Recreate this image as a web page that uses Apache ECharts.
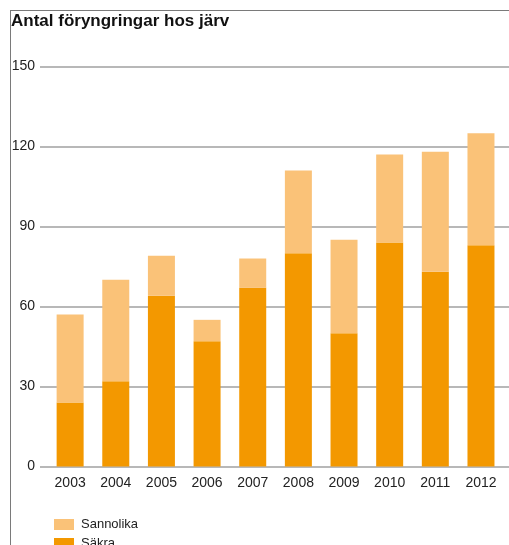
<!DOCTYPE html>
<html>
<head>
<meta charset="utf-8">
<script src="https://cdn.jsdelivr.net/npm/echarts@6/dist/echarts.min.js"></script>
<style>
  html, body { margin: 0; padding: 0; background: #fff; }
  #chart { position: absolute; left: 0; top: 0; width: 509px; height: 545px; }
  #frame { position: absolute; left: 10px; top: 10px; width: 499px; height: 535px;
           border-top: 1px solid #7a7a7a; border-left: 1px solid #7a7a7a; pointer-events: none; }
</style>
</head>
<body>
<div id="chart"></div>
<div id="frame"></div>
<script>
// Wolverine reproductions per year: confirmed (Säkra) and probable (Sannolika)
const years = ['2003', '2004', '2005', '2006', '2007', '2008', '2009', '2010', '2011', '2012'];
const sakra = [24, 32, 64, 47, 67, 80, 50, 84, 73, 83];
const sannolika = [33, 38, 15, 8, 11, 31, 35, 33, 45, 42];
const yTicks = [0, 30, 60, 90, 120, 150];

const colSakra = '#F39800';
const colSannolika = '#FAC278';
const gridGrey = '#a0a0a0';
const labelFont = 'Liberation Sans, Arial, sans-serif';

const chart = echarts.init(document.getElementById('chart'), null, { renderer: 'canvas' });

const yMin = yTicks[0];
const yMax = yTicks[yTicks.length - 1];
const yStep = yTicks[1] - yTicks[0];

chart.setOption({
  animation: false,
  title: {
    text: 'Antal föryngringar hos järv',
    left: 11,
    top: 13,
    padding: 0,
    textStyle: {
      fontFamily: labelFont,
      fontWeight: 'bold',
      fontSize: 17,
      color: '#111'
    }
  },
  legend: {
    orient: 'vertical',
    left: 54,
    top: 518,
    height: 60,
    padding: 0,
    itemWidth: 20,
    itemHeight: 11,
    itemGap: 6,
    icon: 'rect',
    data: ['Sannolika', 'Säkra'],
    textStyle: { fontFamily: labelFont, fontSize: 13, color: '#222', padding: [0, 0, 0, 2] }
  },
  grid: [
    // full-width grid carrying the horizontal value lines
    { left: 40, right: 0, top: 66.5, bottom: 78.5 },
    // inner grid holding the bars
    { left: 47.3, right: 5.2, top: 66.5, bottom: 78.5 }
  ],
  xAxis: [
    { gridIndex: 0, type: 'value', show: false, min: 0, max: 1 },
    {
      gridIndex: 1,
      type: 'category',
      data: years,
      axisLine: { show: false },
      axisTick: { show: false },
      axisLabel: { margin: 10, fontFamily: labelFont, fontSize: 14, color: '#222' }
    }
  ],
  yAxis: [
    {
      gridIndex: 0,
      type: 'value',
      min: yMin,
      max: yMax,
      interval: yStep,
      axisLine: { show: false },
      axisTick: { show: false },
      axisLabel: { margin: 5, fontFamily: labelFont, fontSize: 14, color: '#222' },
      splitLine: { show: true, lineStyle: { color: gridGrey, width: 1.5 } }
    },
    {
      gridIndex: 1,
      type: 'value',
      min: yMin,
      max: yMax,
      interval: yStep,
      show: false,
      splitLine: { show: false }
    }
  ],
  series: [
    {
      name: 'Säkra',
      type: 'bar',
      xAxisIndex: 1,
      yAxisIndex: 1,
      stack: 'total',
      barWidth: 27,
      data: sakra,
      itemStyle: { color: colSakra }
    },
    {
      name: 'Sannolika',
      type: 'bar',
      xAxisIndex: 1,
      yAxisIndex: 1,
      stack: 'total',
      barWidth: 27,
      data: sannolika,
      itemStyle: { color: colSannolika }
    }
  ]
});
</script>
</body>
</html>
